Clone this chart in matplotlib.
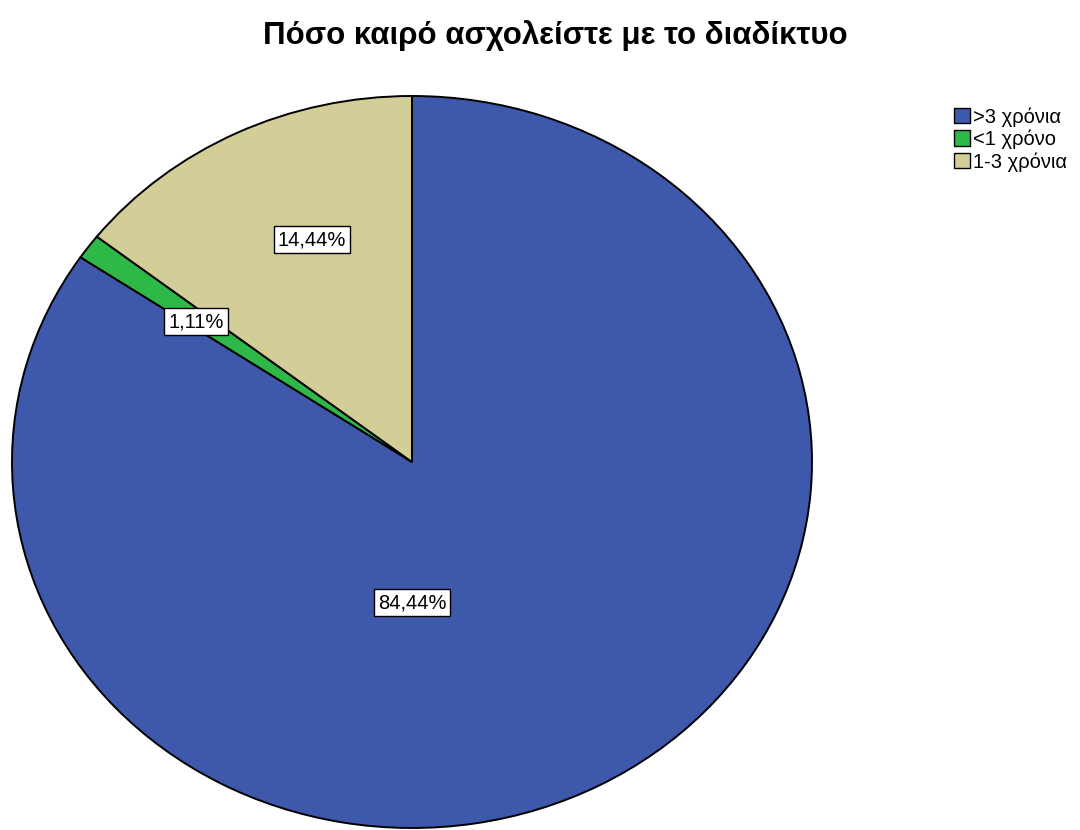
import matplotlib.pyplot as plt
from matplotlib.patches import Patch

plt.rcParams['font.family'] = ['Liberation Sans', 'DejaVu Sans']

title = 'Πόσο καιρό ασχολείστε με το διαδίκτυο'
categories = ['>3 χρόνια', '<1 χρόνο', '1-3 χρόνια']
percents = [84.44, 1.11, 14.44]
colors = ['#3e58ac', '#2eb848', '#d3ce97']
# label spots inside each wedge (pie units)
label_pos = [(0.0, -0.385), (-0.54, 0.383), (-0.25, 0.607)]

W, H = 1080, 830
fig = plt.figure(figsize=(W / 100, H / 100), dpi=100)
fig.patch.set_facecolor('white')

# pie drawn a bit squashed vertically, like the SPSS output
ax = fig.add_axes([12 / W, 2 / H, 800 / W, 732 / H])
wedges, _ = ax.pie(percents, colors=colors, startangle=90, counterclock=False,
                   wedgeprops=dict(edgecolor='black', linewidth=1.4))
ax.set_xlim(-1, 1)
ax.set_ylim(-1, 1)
ax.set_aspect('auto')
ax.axis('off')

for p, (x, y) in zip(percents, label_pos):
    ax.text(x, y, f'{p:.2f}%'.replace('.', ','), ha='center', va='center',
            fontsize=14.5,
            bbox=dict(boxstyle='square,pad=0.2', facecolor='white',
                      edgecolor='black', linewidth=1))

fig.text(555 / W, 1 - 36 / H, title, ha='center', va='center',
         fontsize=22.5, fontweight='bold')

handles = [Patch(facecolor=c, edgecolor='black', linewidth=1) for c in colors]
fig.legend(handles, categories, loc='upper left',
           bbox_to_anchor=(946 / W, 1 - 99 / H), frameon=False,
           fontsize=14.5, handlelength=0.8, handleheight=0.8,
           handletextpad=0.15, labelspacing=0.15, borderaxespad=0)

fig.savefig('out.png', dpi=100, facecolor='white')
